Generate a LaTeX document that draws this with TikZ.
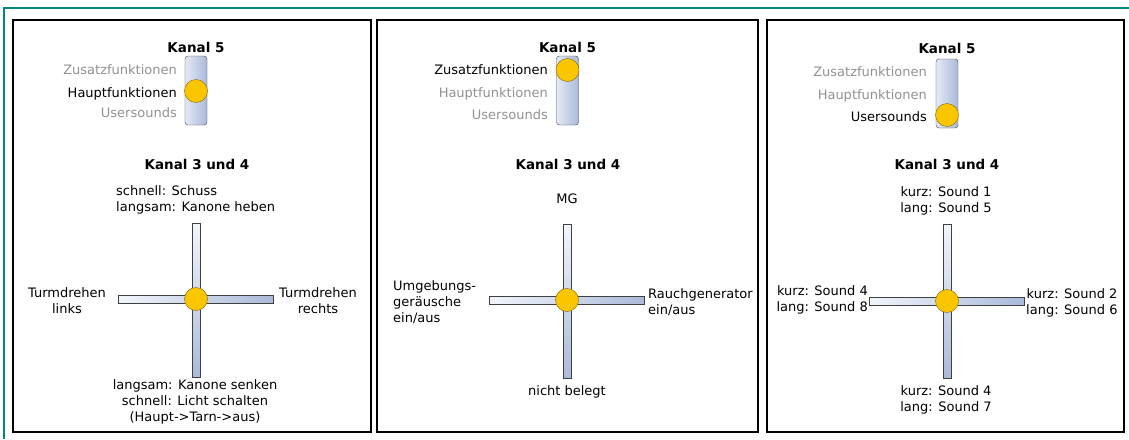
\documentclass[tikz,border=0pt]{standalone}
\usepackage{fontspec}
\setmainfont{DejaVu Sans}
\usetikzlibrary{positioning}

\definecolor{knobyellow}{RGB}{250,198,0}
\definecolor{knobrim}{RGB}{130,100,10}
\definecolor{barlight}{RGB}{242,245,251}
\definecolor{bardark}{RGB}{170,186,218}
\definecolor{offgray}{RGB}{145,145,145}
\definecolor{frameteal}{RGB}{0,136,128}

\begin{document}
\begin{tikzpicture}[x=1pt, y=-1pt, font=\fontsize{13}{16}\selectfont,
    panel/.style={draw=black, line width=2pt, inner sep=0pt, minimum height=412pt},
    title/.style={font=\fontsize{13.5}{16}\selectfont\bfseries, anchor=base, inner sep=0pt},
    onlbl/.style={text=black, anchor=base east, inner sep=0pt},
    offlbl/.style={text=offgray, anchor=base east, inner sep=0pt},
    lbl/.style={align=center, anchor=base, inner sep=0pt},
    slider/.style={draw=black!75, rounded corners=3pt, inner sep=0pt,
        minimum width=22pt, minimum height=69pt, left color=barlight!80!bardark, right color=bardark},
    knob/.style={circle, draw=knobrim, fill=knobyellow, inner sep=0pt, minimum size=23pt},
    hbar/.style={draw=black!75, inner sep=0pt, minimum width=155pt, minimum height=8pt,
        left color=barlight, right color=bardark},
    vbar/.style={draw=black!75, inner sep=0pt, minimum width=8pt, minimum height=154pt,
        top color=barlight, bottom color=bardark}]
    \useasboundingbox (0,0) rectangle (1129,439);
    \draw[frameteal, line width=1.2pt] (4,439) -- (4,8) -- (1129,8);

    % Hauptfunktionen
    \node[panel, minimum width=358pt] (p1) at (192,226) {};
    \node[title] (k5a) at (196,52) {Kanal 5};
    \node[slider] (s1) at (196,90.5) {};
    \node[knob] (n1) at (196,91) {};
    \node[offlbl] (z1) at (177,74) {Zusatzfunktionen};
    \node[onlbl] (h1) at (177,97) {Hauptfunktionen};
    \node[offlbl] (u1) at (177,117) {Usersounds};
    \node[title] (k34a) at (197,169) {Kanal 3 und 4};
    \node[hbar] (ha) at (196,299) {};
    \node[vbar] (va) at (196,300) {};
    \node[knob] (ka) at (196,299) {};
    \node[lbl, align=left, anchor=base west] (ta) at (116,211) {schnell: Schuss\\langsam: Kanone heben};
    \node[lbl] (la) at (67,313) {Turmdrehen\\links};
    \node[lbl] (ra) at (318,313) {Turmdrehen\\rechts};
    \node[lbl] (ba) at (195,421) {langsam: Kanone senken\\schnell: Licht schalten\\(Haupt->Tarn->aus)};

    % Zusatzfunktionen
    \node[panel, minimum width=381pt] (p2) at (567.5,226) {};
    \node[title] (k5b) at (567.5,52) {Kanal 5};
    \node[slider] (s2) at (567.5,90.5) {};
    \node[knob] (n2) at (567.5,70) {};
    \node[onlbl] (z2) at (548,74) {Zusatzfunktionen};
    \node[offlbl] (h2) at (548,97) {Hauptfunktionen};
    \node[offlbl] (u2) at (548,119) {Usersounds};
    \node[title] (k34b) at (568,169) {Kanal 3 und 4};
    \node[hbar] (hb) at (567,300) {};
    \node[vbar] (vb) at (567,301) {};
    \node[knob] (kb) at (567,300) {};
    \node[lbl] (tb) at (567,203) {MG};
    \node[lbl, align=left, anchor=base west] (lb) at (393,322) {Umgebungs-\\geräusche\\ein/aus};
    \node[lbl, align=left, anchor=base west] (rb) at (648,314) {Rauchgenerator\\ein/aus};
    \node[lbl] (bb) at (567,395) {nicht belegt};

    % Usersounds
    \node[panel, minimum width=357pt] (p3) at (945.5,226) {};
    \node[title] (k5c) at (947,53) {Kanal 5};
    \node[slider] (s3) at (947,93.5) {};
    \node[knob] (n3) at (947,115) {};
    \node[offlbl] (z3) at (927,76) {Zusatzfunktionen};
    \node[offlbl] (h3) at (927,99) {Hauptfunktionen};
    \node[onlbl] (u3) at (927,121) {Usersounds};
    \node[title] (k34c) at (947,169) {Kanal 3 und 4};
    \node[hbar] (hc) at (946.5,301) {};
    \node[vbar] (vc) at (947,301) {};
    \node[knob] (kc) at (947,301) {};
    \node[lbl] (tc) at (946,212) {kurz: Sound 1\\lang: Sound 5};
    \node[lbl, align=right, anchor=base east] (lc) at (868,311) {kurz: Sound 4\\lang: Sound 8};
    \node[lbl, align=right, anchor=base west] (rc) at (1026,314) {kurz: Sound 2\\lang: Sound 6};
    \node[lbl] (bc) at (946,411) {kurz: Sound 4\\lang: Sound 7};
\end{tikzpicture}
\end{document}
